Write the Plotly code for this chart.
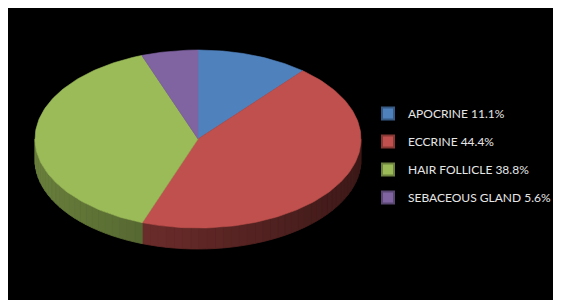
import numpy as np
import plotly.graph_objects as go

labels = ["APOCRINE", "ECCRINE", "HAIR FOLLICLE", "SEBACEOUS GLAND"]
percents = [11.1, 44.4, 38.8, 5.6]
colors = ["#4F81BD", "#C0504D", "#9BBB59", "#8064A2"]

# page body has an 8px default margin; the figure fills the rest of the window
W, H = 553, 292
OFF = 8
CX, CY, RX, RY, DEPTH = 198, 139, 163, 89, 21
LEG_X, LEG_Y = 368, 99  # legend top-left in page pixels


def shade(hex_color, f):
    h = hex_color.lstrip("#")
    r, g, b = (int(h[i:i + 2], 16) for i in (0, 2, 4))
    return "rgb({},{},{})".format(int(r * f), int(g * f), int(b * f))


def ell(t):
    return CX + RX * np.cos(t), CY - RY * np.sin(t)


fig = go.Figure()

total = sum(percents)
start = np.pi / 2
spans = []
for p in percents:
    end = start - 2 * np.pi * p / total
    spans.append((start, end))
    start = end

# side walls (visible front half)
for (s, e), c in zip(spans, colors):
    for shift in (0, -2 * np.pi, 2 * np.pi):
        a0, a1 = max(e + shift, -np.pi), min(s + shift, 0)
        if a1 <= a0:
            continue
        n = max(2, int((a1 - a0) / 0.05))
        edges = np.linspace(a1, a0, n + 1)
        for i in range(n):
            t = np.linspace(edges[i], edges[i + 1], 4)
            x, y = ell(t)
            xs = list(x) + list(x[::-1]) + [x[0]]
            ys = list(y) + list(y[::-1] + DEPTH) + [y[0]]
            xm = (x.mean() - (CX - RX)) / (2 * RX)
            f = 0.68 - 0.36 * xm
            col = shade(c, f)
            fig.add_trace(go.Scatter(x=xs, y=ys, mode="lines", fill="toself",
                                     fillcolor=col, line=dict(color=col, width=0.8),
                                     hoverinfo="skip", showlegend=False))

# top faces
for (s, e), c, lab, p in zip(spans, colors, labels, percents):
    t = np.linspace(s, e, 120)
    x, y = ell(t)
    xs = [CX] + list(x) + [CX]
    ys = [CY] + list(y) + [CY]
    fig.add_trace(go.Scatter(x=xs, y=ys, mode="lines", fill="toself",
                             fillcolor=c, line=dict(color=c, width=0.6),
                             name=f"{lab} {p}%", hoverinfo="name", showlegend=False))

# legend entries
for c, lab, p in zip(colors, labels, percents):
    fig.add_trace(go.Scatter(x=[None], y=[None], mode="markers",
                             marker=dict(symbol="square", size=8, color=c,
                                         line=dict(color=shade(c, 0.7), width=1)),
                             name=f"{lab} {p}%", legendgroup=lab))

fig.update_layout(
    width=W, height=H,
    margin=dict(l=0, t=0, r=0, b=0, pad=0),
    paper_bgcolor="black", plot_bgcolor="black",
    xaxis=dict(range=[OFF, W + OFF], visible=False, fixedrange=True),
    yaxis=dict(range=[H + OFF, OFF], visible=False, fixedrange=True),
    showlegend=True,
    legend=dict(x=(LEG_X - OFF) / W, y=1 - (LEG_Y - OFF) / H,
                xanchor="left", yanchor="top",
                bgcolor="rgba(0,0,0,0)", tracegroupgap=9,
                font=dict(family="Lato, Open Sans, sans-serif", size=12, color="#E6E6E6"),
                itemsizing="constant"),
)

fig.write_html("out.html")
